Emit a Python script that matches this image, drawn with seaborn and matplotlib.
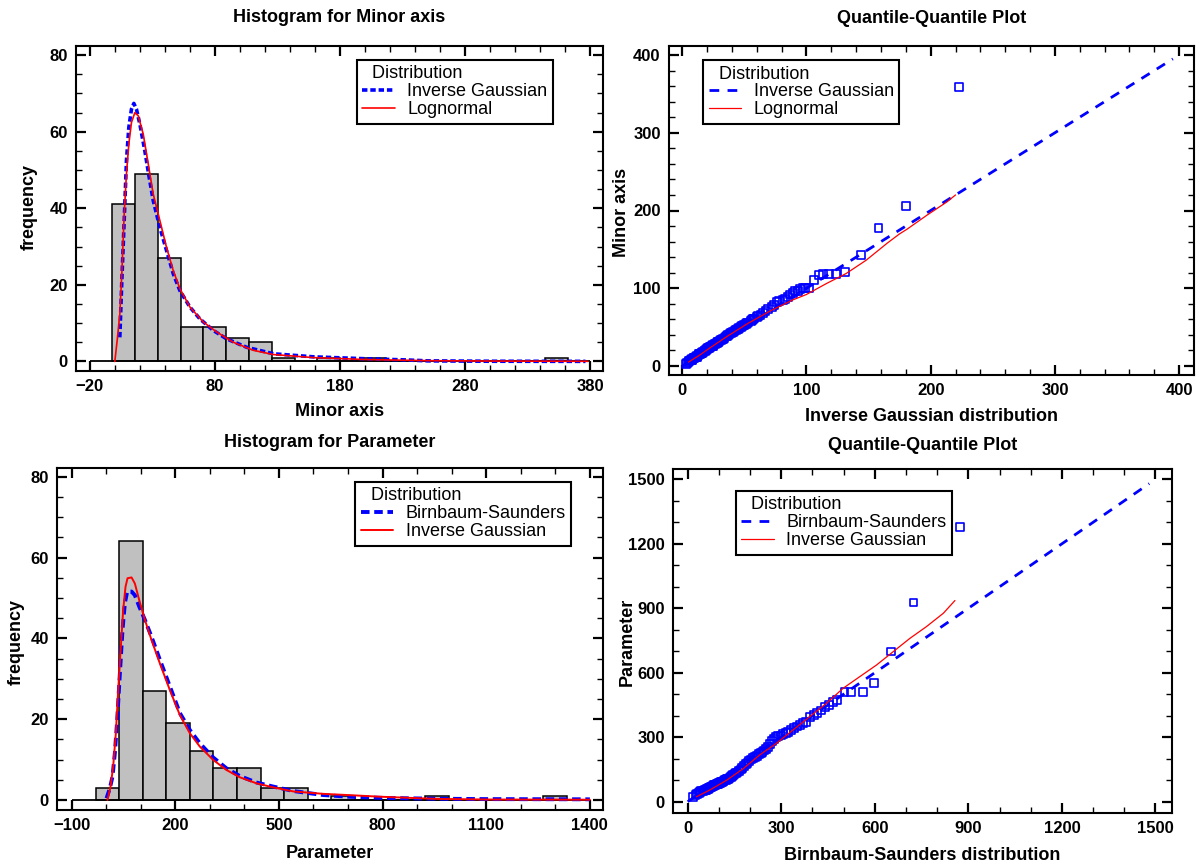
import matplotlib
matplotlib.use("Agg")
import matplotlib.pyplot as plt
import numpy as np
import pandas as pd
import seaborn as sns

# ---------------- data ----------------
# Histogram for Minor axis: 20 classes between lower / upper limit
minor_lo, minor_hi, minor_nbins = -2.0, 362.0, 20
minor_counts = [41, 49, 27, 9, 9, 6, 5, 1, 0, 1, 0, 1, 0, 0, 0, 0, 0, 0, 0, 1]

# fitted density curves (scaled to frequency)
minor_ig_x = [4, 5.6, 7.5, 9.3, 11.2, 13.3, 15.2, 17.3, 20, 24, 27.5, 30.7, 36, 41.3,
              46.7, 52, 60, 68, 78.7, 89.3, 105.3, 126.7, 158.7, 200, 232, 250, 300, 376]
minor_ig_y = [6.3, 21, 36.8, 52.4, 61.1, 65.9, 67.4, 65.9, 62, 55, 48, 42, 35, 29,
              22.9, 18.5, 14.2, 11.1, 8.1, 5.9, 3.7, 2.0, 1.2, 0.7, 0.4, 0.15, 0.05, 0.02]
minor_ln_x = [0, 1.9, 4, 5.6, 7.5, 9.3, 11.2, 13.3, 16, 18.7, 22.7, 26.7, 30.7, 36,
              41.3, 46.7, 52, 60, 70.7, 81.3, 94.7, 110.7, 126.7, 158.7, 200, 250, 300, 378]
minor_ln_y = [0, 5.5, 12.4, 22.9, 38.5, 49, 56.8, 62.4, 65, 64.2, 59.4, 51.6, 43.7, 36.8,
              29.8, 23.7, 19, 14.2, 10.3, 7.7, 5, 2.9, 1.8, 1.0, 0.5, 0.2, 0.1, 0.03]

# Q-Q plot for Minor axis (x: Inverse Gaussian quantiles, y: sorted data)
qq_minor_x = [3, 4, 5, 5.5, 6, 7, 7.5, 8, 9, 9.5,
              10, 11, 11.5, 12, 13, 13.5, 14, 15, 15.5, 16,
              17, 18, 18.5, 19, 20, 21, 21.5, 22, 23, 24,
              24.5, 25, 26, 27, 28, 28.5, 29, 30, 31, 32,
              33, 34, 35, 36, 37, 38, 39, 40, 41, 42,
              43, 44, 45, 46, 47, 48, 49, 50, 51, 52,
              53, 55, 56, 57, 58, 60, 61, 63, 65, 67,
              69, 72, 74, 76, 78, 81, 83, 85, 87, 89,
              91, 93, 95, 97, 99, 102, 106, 110, 113, 118,
              124, 131, 144, 158, 180, 223]
qq_minor_y = [2, 4, 5, 6, 7, 8, 8, 9, 10, 10,
              11, 12, 12, 13, 14, 15, 15, 16, 17, 17,
              18, 19, 20, 21, 22, 23, 23, 24, 25, 26,
              26, 27, 28, 29, 30, 31, 31, 32, 33, 34,
              35, 36, 38, 39, 40, 41, 42, 43, 44, 45,
              46, 47, 48, 49, 50, 51, 52, 53, 54, 55,
              56, 58, 59, 60, 61, 63, 64, 66, 68, 71,
              73, 76, 78, 82, 84, 85, 86, 89, 92, 94,
              96, 97, 99, 100, 100, 100, 111, 117, 118, 118,
              118, 121, 143, 178, 206, 359]
qq_minor_ref = [0, 395]
qq_minor_ln_x = [5, 14, 22, 36, 52, 71, 89, 100, 116, 132, 148, 165, 175, 181, 197, 213, 220]
qq_minor_ln_y = [5, 14, 23, 38, 54, 71, 85, 92, 106, 119, 136, 158, 170, 176, 194, 211, 220]

# Histogram for Parameter
param_lo, param_hi, param_nbins = -30.5, 1333.5, 20
param_counts = [3, 64, 27, 19, 12, 8, 8, 3, 3, 0, 1, 0, 0, 0, 1, 0, 0, 0, 0, 1]

param_bs_x = [1.3, 11, 18.7, 25.4, 32.2, 40, 47.6, 54.4, 61.1, 73.7, 83.3, 95.9, 112.3,
              131.5, 155.7, 184.6, 213.6, 242.5, 271.4, 310, 348.6, 387.2, 435.5, 483.7,
              541.6, 628.4, 700, 800, 950, 1100, 1400]
param_bs_y = [0.4, 2.9, 5.8, 11.6, 19.8, 31.4, 42.1, 48.7, 51.6, 51.6, 50.7, 47.9, 44.6,
              40.4, 34.7, 28.1, 21.5, 17.3, 14, 10.5, 7.8, 5.9, 4.3, 3.3,
              2.2, 1.2, 0.8, 0.5, 0.3, 0.2, 0.15]
param_ig_x = [4.2, 12.9, 20.6, 28.3, 35.1, 42.8, 49.5, 56.3, 62.1, 73.7, 83.3, 95.9, 112.3,
              131.5, 155.7, 184.6, 213.6, 242.5, 271.4, 310, 348.6, 387.2, 435.5, 483.7,
              541.6, 628.4, 700, 790, 956, 1100, 1400]
param_ig_y = [0, 3.3, 8.3, 16.5, 27.2, 38, 47, 52.8, 54.9, 55.1, 53.6, 49.5, 44.6,
              39.6, 33.8, 27.2, 21, 16.5, 13.2, 9.9, 7.4, 5.6, 4.1, 3.1,
              2.1, 1.5, 1.2, 0.8, 0.25, 0.1, 0.05]

# Q-Q plot for Parameter (x: Birnbaum-Saunders quantiles, y: sorted data)
qq_param_x = [18, 25, 30, 35, 40, 44, 48, 52, 55, 58,
              61, 64, 67, 70, 73, 76, 79, 82, 85, 88,
              91, 94, 97, 100, 103, 106, 109, 112, 115, 118,
              122, 126, 130, 134, 138, 142, 146, 150, 155, 160,
              165, 170, 175, 180, 186, 192, 198, 204, 210, 216,
              222, 228, 234, 240, 246, 252, 258, 264, 270, 276,
              282, 290, 298, 306, 314, 322, 330, 340, 350, 360,
              370, 380, 392, 404, 416, 428, 440, 452, 465, 479,
              503, 525, 562, 598, 653, 724, 873]
qq_param_y = [22, 30, 35, 40, 44, 48, 50, 52, 54, 56,
              58, 60, 62, 64, 66, 68, 71, 74, 76, 78,
              80, 82, 84, 86, 88, 90, 92, 94, 97, 100,
              102, 104, 106, 110, 114, 118, 124, 128, 132, 136,
              142, 150, 158, 165, 174, 182, 190, 196, 202, 208,
              214, 220, 226, 232, 238, 246, 256, 270, 282, 292,
              300, 304, 308, 314, 320, 326, 334, 342, 350, 358,
              366, 372, 396, 402, 412, 424, 440, 448, 462, 472,
              510, 510, 510, 551, 699, 927, 1278]
qq_param_ref = [0, 1480]
qq_param_ig_x = [28, 70.6, 124, 177.6, 231, 284.7, 338, 391.7, 445, 498.7, 552, 605.6,
                 659, 712.6, 766, 820, 857]
qq_param_ig_y = [23, 54, 99, 153, 217.5, 272, 334, 396, 458, 528, 582, 636,
                 698, 760, 815, 877, 936]

BLUE = "#0000FF"
RED = "#FF0000"
GRAY = "#C0C0C0"
TITLE_FS = 13
LABEL_FS = 13
TICK_FS = 12
LEGEND_FS = 13

sns.set_theme(style="white")
plt.rcParams["font.family"] = ["Liberation Sans", "DejaVu Sans"]
plt.rcParams["axes.edgecolor"] = "black"
plt.rcParams["axes.linewidth"] = 1.5
plt.rcParams["text.color"] = "black"
plt.rcParams["axes.labelcolor"] = "black"
plt.rcParams["axes.titlecolor"] = "black"
plt.rcParams["xtick.color"] = "black"
plt.rcParams["ytick.color"] = "black"

W, H = 1200, 867
fig = plt.figure(figsize=(W / 100, H / 100), dpi=100)


def px_axes(left, top, right, bottom):
    return fig.add_axes([left / W, 1 - bottom / H, (right - left) / W, (bottom - top) / H])


def style_axes(ax, xlim, ylim, xmaj, xmin, ymaj, ymin):
    ax.set_xlim(*xlim)
    ax.set_ylim(*ylim)
    ax.set_xticks(xmaj)
    ax.set_xticks(xmin, minor=True)
    ax.set_yticks(ymaj)
    ax.set_yticks(ymin, minor=True)
    ax.tick_params(which="both", direction="in", top=True, right=True,
                   bottom=True, left=True, colors="black")
    ax.tick_params(which="major", length=7, width=1.6, labelsize=TICK_FS, pad=6)
    ax.tick_params(which="minor", length=4, width=1.0)
    for lab in ax.get_xticklabels() + ax.get_yticklabels():
        lab.set_fontweight("bold")
    for sp in ax.spines.values():
        sp.set_linewidth(1.5)
        sp.set_color("black")
    ax.grid(False)


def add_legend(ax, anchor):
    leg = ax.legend(title="  Distribution", loc="upper left", bbox_to_anchor=anchor,
                    borderaxespad=0, frameon=True, fancybox=False, framealpha=1,
                    edgecolor="black", fontsize=LEGEND_FS, title_fontsize=LEGEND_FS,
                    handlelength=1.8, handletextpad=0.7, borderpad=0.3,
                    labelspacing=0.05, alignment="left")
    leg.get_frame().set_linewidth(1.5)
    return leg


def histogram_panel(ax, lo, hi, nbins, counts, base_ticks):
    edges = np.linspace(lo, hi, nbins + 1)
    bins_df = pd.DataFrame({"center": (edges[:-1] + edges[1:]) / 2, "count": counts})
    sns.histplot(data=bins_df, x="center", weights="count", bins=edges.tolist(), stat="count",
                 color=GRAY, edgecolor="black", linewidth=1.1, alpha=1.0, ax=ax)
    ax.hlines(0, base_ticks[0], base_ticks[-1], color="black", linewidth=1.3, zorder=1.5)


def qq_squares(ax, xs, ys):
    sns.scatterplot(x=xs, y=ys, marker="s", s=32, ax=ax)
    pts = ax.collections[-1]
    pts.set_facecolor("none")
    pts.set_edgecolor(BLUE)
    pts.set_linewidth(1.2)


# ---------------- top-left: Histogram for Minor axis ----------------
ax1 = px_axes(76, 46, 603, 371)
minor_xt = np.arange(-20, 381, 100)
histogram_panel(ax1, minor_lo, minor_hi, minor_nbins, minor_counts, minor_xt)
sns.lineplot(x=minor_ig_x, y=minor_ig_y, estimator=None, sort=False, color=BLUE,
             linewidth=2.6, linestyle=(0, (1.5, 0.8)), label="Inverse Gaussian", ax=ax1)
sns.lineplot(x=minor_ln_x, y=minor_ln_y, estimator=None, sort=False, color=RED,
             linewidth=1.2, label="Lognormal", ax=ax1)
style_axes(ax1, (-31, 390), (-2.5, 82.4), minor_xt, np.arange(-20, 381, 20),
           np.arange(0, 81, 20), np.arange(0, 81, 5))
ax1.set_title("Histogram for Minor axis", fontsize=TITLE_FS, fontweight="bold", pad=17)
ax1.set_xlabel("Minor axis", fontsize=LABEL_FS, fontweight="bold")
ax1.set_ylabel("frequency", fontsize=LABEL_FS, fontweight="bold")
ax1.xaxis.set_label_coords(0.5, -0.098)
ax1.yaxis.set_label_coords(-0.072, 0.505)
add_legend(ax1, (0.533, 0.957))

# ---------------- top-right: Q-Q plot Minor axis ----------------
ax2 = px_axes(669, 46, 1194, 375)
sns.lineplot(x=qq_minor_ref, y=qq_minor_ref, estimator=None, color=BLUE, linewidth=2.0,
             linestyle=(0, (3.5, 3)), label="Inverse Gaussian", ax=ax2)
sns.lineplot(x=qq_minor_ln_x, y=qq_minor_ln_y, estimator=None, sort=False, color=RED,
             linewidth=0.9, label="Lognormal", ax=ax2)
qq_squares(ax2, qq_minor_x, qq_minor_y)
style_axes(ax2, (-10.7, 412), (-11.6, 411.6), np.arange(0, 401, 100), np.arange(0, 401, 20),
           np.arange(0, 401, 100), np.arange(0, 401, 20))
ax2.set_title("Quantile-Quantile Plot", fontsize=TITLE_FS, fontweight="bold", pad=16.5)
ax2.set_xlabel("Inverse Gaussian distribution", fontsize=LABEL_FS, fontweight="bold")
ax2.set_ylabel("Minor axis", fontsize=LABEL_FS, fontweight="bold")
ax2.xaxis.set_label_coords(0.5, -0.1)
ax2.yaxis.set_label_coords(-0.074, 0.495)
add_legend(ax2, (0.065, 0.957))

# ---------------- bottom-left: Histogram for Parameter ----------------
ax3 = px_axes(57, 468, 603, 810)
param_xt = np.arange(-100, 1401, 300)
histogram_panel(ax3, param_lo, param_hi, param_nbins, param_counts, param_xt)
sns.lineplot(x=param_bs_x, y=param_bs_y, estimator=None, sort=False, color=BLUE,
             linewidth=2.8, linestyle=(0, (2.2, 1.2)), label="Birnbaum-Saunders", ax=ax3)
sns.lineplot(x=param_ig_x, y=param_ig_y, estimator=None, sort=False, color=RED,
             linewidth=1.4, label="Inverse Gaussian", ax=ax3)
style_axes(ax3, (-142, 1438), (-2.5, 82.2), param_xt, np.arange(-100, 1401, 100),
           np.arange(0, 81, 20), np.arange(0, 81, 5))
ax3.set_title("Histogram for Parameter", fontsize=TITLE_FS, fontweight="bold", pad=15)
ax3.set_xlabel("Parameter", fontsize=LABEL_FS, fontweight="bold")
ax3.set_ylabel("frequency", fontsize=LABEL_FS, fontweight="bold")
ax3.xaxis.set_label_coords(0.5, -0.102)
ax3.yaxis.set_label_coords(-0.059, 0.49)
add_legend(ax3, (0.546, 0.959))

# ---------------- bottom-right: Q-Q plot Parameter ----------------
ax4 = px_axes(673, 469, 1172, 813)
sns.lineplot(x=qq_param_ref, y=qq_param_ref, estimator=None, color=BLUE, linewidth=2.0,
             linestyle=(0, (3.5, 3)), label="Birnbaum-Saunders", ax=ax4)
sns.lineplot(x=qq_param_ig_x, y=qq_param_ig_y, estimator=None, sort=False, color=RED,
             linewidth=0.9, label="Inverse Gaussian", ax=ax4)
qq_squares(ax4, qq_param_x, qq_param_y)
style_axes(ax4, (-47, 1553), (-52.6, 1548), np.arange(0, 1501, 300), np.arange(0, 1501, 100),
           np.arange(0, 1501, 300), np.arange(0, 1501, 100))
ax4.set_title("Quantile-Quantile Plot", fontsize=TITLE_FS, fontweight="bold", pad=13.7)
ax4.set_xlabel("Birnbaum-Saunders distribution", fontsize=LABEL_FS, fontweight="bold")
ax4.set_ylabel("Parameter", fontsize=LABEL_FS, fontweight="bold")
ax4.xaxis.set_label_coords(0.5, -0.099)
ax4.yaxis.set_label_coords(-0.074, 0.497)
add_legend(ax4, (0.126, 0.936))

fig.savefig("out.png", dpi=100)
